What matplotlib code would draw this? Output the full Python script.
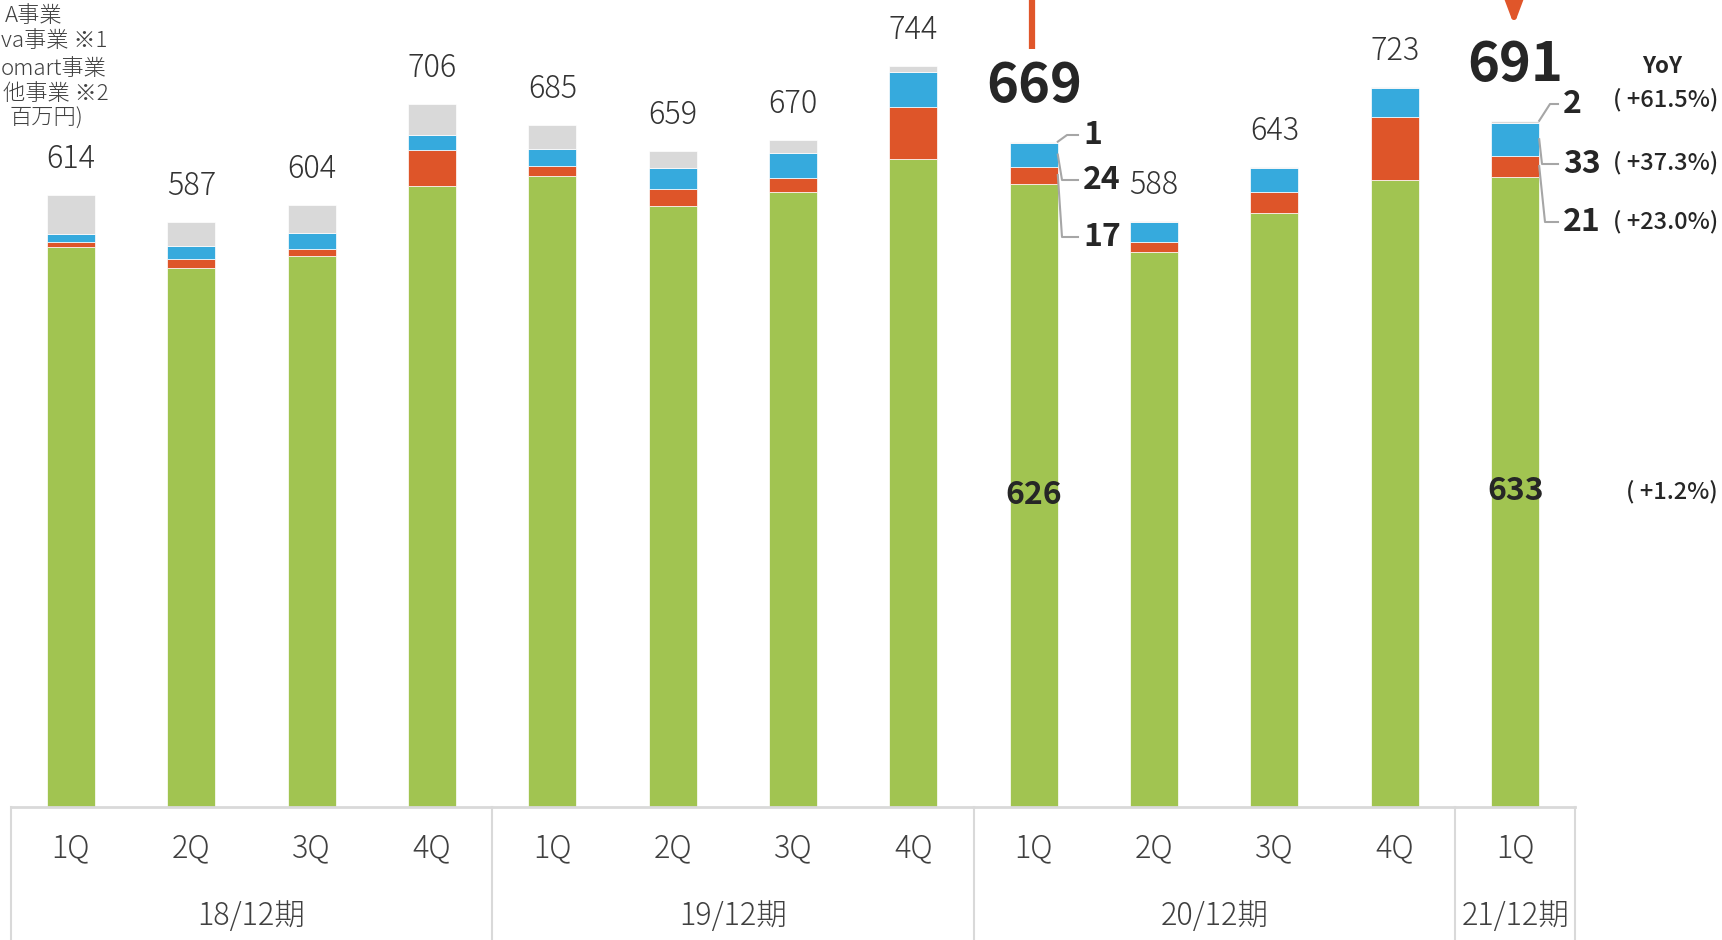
import numpy as np
import matplotlib.pyplot as plt

plt.rcParams['font.family'] = ['Noto Sans CJK JP', 'DejaVu Sans']

# data (百万円)
quarters = ['1Q', '2Q', '3Q', '4Q', '1Q', '2Q', '3Q', '4Q', '1Q', '2Q', '3Q', '4Q', '1Q']
periods = ['18/12期', '19/12期', '20/12期', '21/12期']
period_span = [(0, 3), (4, 7), (8, 11), (12, 12)]
seg_green = [562, 541, 553, 623, 634, 603, 617, 651, 626, 557, 596, 630, 633]
seg_red = [5, 9, 7, 37, 10, 17, 15, 52, 17, 10, 21, 63, 21]
seg_blue = [8, 13, 16, 15, 17, 22, 25, 35, 24, 20, 25, 29, 33]
seg_gray = [39, 24, 28, 31, 24, 17, 13, 6, 1, 1, 1, 1, 2]
totals = [614, 587, 604, 706, 685, 659, 670, 744, 669, 588, 643, 723, 691]
legend_labels = ['A事業', 'va事業 ※1', 'omart事業', '他事業 ※2', '百万円)']
yoy_labels = ['( +61.5%)', '( +37.3%)', '( +23.0%)', '( +1.2%)']

colors = ['#a1c451', '#de5529', '#36aadd', '#d9d9d9']
orange = '#e0562a'
dark = '#262626'

# pixel <-> data helpers (figure drawn on a single full-size axes)
PX, X0, K, BASE = 120.35, 71, 0.996, 807
def xv(px):
    return (px - X0) / PX
def yv(py):
    return (BASE - py) / K

fig = plt.figure(figsize=(17.22, 9.4), dpi=100)
ax = fig.add_axes([0, 0, 1, 1])
ax.set_xlim(xv(0), xv(1722))
ax.set_ylim(yv(940), yv(0))
ax.axis('off')

x = np.arange(len(quarters))
w = 48 / PX
bottom = np.zeros(len(x))
for vals, c in zip([seg_green, seg_red, seg_blue, seg_gray], colors):
    ax.bar(x, vals, w, bottom=bottom, color=c, edgecolor='white', linewidth=0.5, zorder=2)
    bottom += np.array(vals)

# category axis
ax.plot([-0.5, 12.5], [0, 0], color='#d9d9d9', lw=2, zorder=3)
for sx in [-0.5, 3.5, 7.5, 11.5, 12.5]:
    ax.plot([sx, sx], [0, yv(940)], color='#d9d9d9', lw=1.5, clip_on=False)
for i, q in enumerate(quarters):
    ax.text(i, yv(848), q, ha='center', va='center', fontsize=22, color='#404040', weight='light')
for p, (a, b) in zip(periods, period_span):
    ax.text((a + b) / 2, yv(916), p, ha='center', va='center', fontsize=22, color='#404040', weight='light')

# totals
for i, t in enumerate(totals):
    if i in (8, 12):
        ax.text(i, bottom[i] + 55 / K, str(t), ha='center', va='center', fontsize=39,
                weight='bold', color=dark)
    else:
        ax.text(i, bottom[i] + 36 / K, str(t), ha='center', va='center', fontsize=22,
                weight='light', color='#333333')

# highlight marks
ax.plot([xv(1032), xv(1032)], [yv(0), yv(49)], color=orange, lw=4.5, solid_capstyle='butt')
ax.annotate('', xy=(xv(1514), yv(25)), xytext=(xv(1514), yv(-20)),
            arrowprops=dict(arrowstyle='-|>,head_length=1.6,head_width=0.6',
                            color=orange, lw=4, shrinkA=0, shrinkB=0))

# segment labels with leader lines
def seg_labels(i, vals, label_py, bend_px, end_px, text_px):
    xr = i + w / 2
    segs = [seg_gray[i], seg_blue[i], seg_red[i]]
    tops = [bottom[i], bottom[i] - seg_gray[i], bottom[i] - seg_gray[i] - seg_blue[i]]
    starts = [tops[0], tops[1] - segs[1] / 2, tops[2] - segs[2] / 2]
    for s, v, ly, bx in zip(starts, vals, label_py, bend_px):
        ax.plot([xr, xv(bx), xv(end_px)], [s, yv(ly), yv(ly)], color='#a6a6a6', lw=1.5)
        ax.text(xv(text_px), yv(ly), str(v), ha='left', va='center', fontsize=23,
                weight='bold', color=dark)

seg_labels(8, [seg_gray[8], seg_blue[8], seg_red[8]], [135, 180, 237], [1067, 1062, 1062], 1078, 1083)
seg_labels(12, [seg_gray[12], seg_blue[12], seg_red[12]], [104, 164, 222], [1550, 1542, 1545], 1558, 1563)
ax.text(8, yv(495), str(seg_green[8]), ha='center', va='center', fontsize=23, weight='bold', color=dark)
ax.text(12, yv(491), str(seg_green[12]), ha='center', va='center', fontsize=23, weight='bold', color=dark)

# YoY column
ax.text(xv(1662), yv(67), 'YoY', ha='center', va='center', fontsize=16, weight='bold', color=dark)
for lab, py in zip(yoy_labels, [100, 163, 222, 492]):
    ax.text(xv(1718), yv(py), lab, ha='right', va='center', fontsize=17, weight='medium', color=dark)

# legend remnants (left edge of the slide)
for lab, py, lx in zip(legend_labels, [16, 41, 69, 94, 119], [5, 1, 1, 3, 10]):
    ax.text(xv(lx), yv(py), lab, ha='left', va='center', fontsize=16, color='#404040', weight='light')

fig.savefig('out.png', dpi=100)
